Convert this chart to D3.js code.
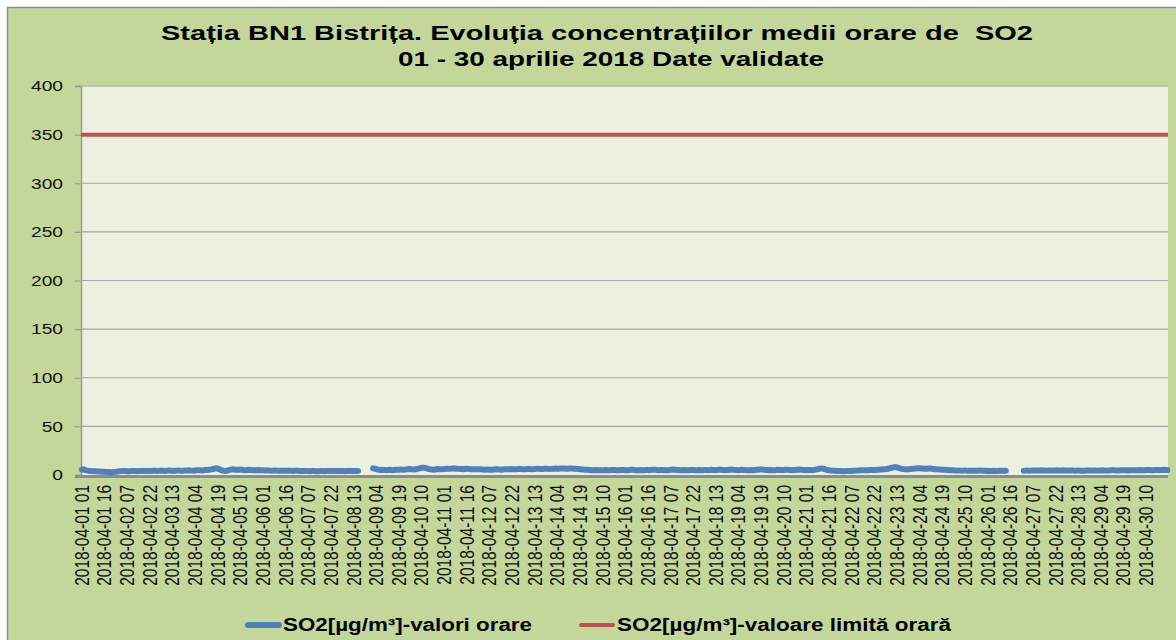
<!DOCTYPE html>
<html>
<head>
<meta charset="utf-8">
<style>
  body { margin: 0; background: #fff; }
  svg { display: block; font-family: "Liberation Sans", Arial, sans-serif; }
</style>
</head>
<body>
<svg width="1176" height="640"></svg>
<script src="https://d3js.org/d3.v7.min.js"></script>
<script>
var titleLines = ["Stația BN1 Bistrița. Evoluția concentrațiilor medii orare de  SO2",
                  "01 - 30 aprilie 2018 Date validate"];
var seriesNames = ["SO2[µg/m³]-valori orare", "SO2[µg/m³]-valoare limită orară"];
var limitValue = 350;
var yTicks = [0, 50, 100, 150, 200, 250, 300, 350, 400];

// hourly SO2 values, one row per day (hours 01..24), null = missing
var so2 = [
 5.5,5.8,5.2,4.8,4.5,4.2,4.0,4.0,3.8,3.8,3.6,3.5,3.5,3.4,3.4,3.3,3.2,3.0,3.0,2.9,2.9,3.0,3.2,3.4,
 3.6,3.8,4.0,4.0,4.1,4.0,3.9,3.8,3.9,4.0,4.1,4.0,3.9,4.0,4.2,4.1,4.0,4.0,4.1,4.2,4.2,4.0,4.1,4.3,
 4.3,4.4,4.2,4.3,4.5,4.4,4.3,4.2,4.3,4.5,4.6,4.4,4.3,4.2,4.4,4.5,4.6,4.5,4.3,4.4,4.5,4.6,4.7,4.8,
 4.6,4.5,4.4,4.6,4.8,4.9,5.0,4.8,4.7,4.9,5.1,5.2,5.3,5.5,5.8,6.2,6.6,6.9,6.7,6.0,5.2,4.6,4.3,4.2,
 4.4,4.8,5.2,5.6,5.8,5.7,5.5,5.3,5.4,5.6,5.5,5.2,5.0,4.9,5.1,5.3,5.2,5.0,4.9,4.8,5.0,5.1,5.0,4.9,
 4.8,4.7,4.6,4.7,4.6,4.5,4.4,4.5,4.6,4.5,4.4,4.3,4.4,4.5,4.4,4.3,4.4,4.5,4.4,4.3,4.2,4.3,4.4,4.3,
 4.2,4.1,4.2,4.0,4.1,4.2,4.0,3.9,4.0,4.1,4.0,3.9,3.8,3.9,4.0,4.1,4.0,3.9,4.0,4.1,4.2,4.1,4.0,4.1,
 4.2,4.1,4.0,4.1,4.2,4.0,3.9,4.0,4.1,4.0,4.1,4.2,4.1,4.0,4.1,4.2,null,null,null,null,null,null,null,null,
 null,6.8,6.5,6.0,5.6,5.4,5.2,5.3,5.2,5.1,5.0,5.2,5.3,5.1,5.0,5.2,5.4,5.3,5.5,5.7,5.6,5.4,5.5,5.8,
 6.0,6.2,6.0,5.8,5.7,5.9,6.2,6.5,6.9,7.3,7.6,7.4,7.0,6.5,6.1,5.8,5.6,5.5,5.7,5.9,6.1,6.0,5.9,6.0,
 6.1,6.3,6.5,6.4,6.3,6.6,6.8,6.7,6.5,6.4,6.3,6.2,6.1,6.0,6.2,6.4,6.3,6.1,6.0,5.9,5.8,5.9,6.0,5.9,
 5.8,5.7,5.6,5.5,5.6,5.7,5.5,5.4,5.5,5.6,5.7,5.8,5.7,5.6,5.5,5.7,5.9,6.0,5.9,5.8,6.0,6.1,6.0,5.9,
 6.0,6.1,6.2,6.1,6.0,5.9,6.0,6.2,6.3,6.2,6.0,5.9,6.1,6.3,6.4,6.3,6.2,6.1,6.3,6.5,6.4,6.3,6.2,6.3,
 6.4,6.5,6.6,6.5,6.4,6.6,6.8,6.7,6.6,6.5,6.4,6.6,6.7,6.6,6.5,6.4,6.3,6.2,6.0,5.8,5.6,5.5,5.4,5.3,
 5.2,5.1,5.0,4.9,5.0,5.1,5.0,4.9,4.8,4.9,5.0,5.1,5.0,4.9,5.0,5.1,5.2,5.1,5.0,4.9,5.0,5.1,5.2,5.1,
 5.0,4.9,5.0,5.2,5.4,5.3,5.1,5.0,4.9,5.0,5.1,5.0,4.9,5.0,5.2,5.1,5.0,5.2,5.4,5.5,5.3,5.1,5.0,5.1,
 5.2,5.1,5.0,4.9,5.0,5.1,5.3,5.5,5.6,5.4,5.2,5.1,5.0,4.9,5.0,5.1,5.0,4.9,5.0,5.1,5.2,5.1,5.0,4.9,
 5.0,5.1,5.0,4.9,5.0,5.2,5.1,5.0,5.1,5.3,5.2,5.1,5.0,5.2,5.4,5.3,5.2,5.1,5.0,5.1,5.2,5.4,5.6,5.5,
 5.3,5.2,5.1,5.0,5.1,5.3,5.2,5.1,5.0,4.9,5.0,5.1,5.0,4.9,5.1,5.3,5.5,5.7,5.8,5.6,5.4,5.2,5.1,5.0,
 5.1,5.0,4.9,5.0,5.1,5.3,5.2,5.1,5.0,5.2,5.4,5.5,5.3,5.2,5.1,5.0,5.1,5.2,5.4,5.6,5.5,5.3,5.2,5.1,
 5.0,5.1,5.2,5.1,5.0,5.2,5.5,5.8,6.2,6.6,6.8,6.5,6.0,5.5,5.1,4.8,4.6,4.5,4.4,4.3,4.2,4.1,4.0,4.0,
 3.9,3.9,4.0,4.1,4.0,4.1,4.2,4.3,4.4,4.5,4.6,4.7,4.8,4.9,5.0,5.0,4.9,5.0,5.1,5.2,5.1,5.0,5.2,5.4,
 5.5,5.6,5.7,5.8,5.9,6.1,6.4,6.8,7.2,7.6,7.9,8.1,7.8,7.3,6.8,6.4,6.1,6.0,5.9,5.8,5.9,6.1,6.3,6.5,
 6.6,6.8,7.0,6.9,6.7,6.6,6.5,6.4,6.5,6.7,6.6,6.4,6.2,6.0,5.9,5.8,5.7,5.6,5.5,5.4,5.3,5.2,5.1,5.0,
 4.9,4.8,4.7,4.6,4.5,4.6,4.5,4.4,4.5,4.6,4.5,4.4,4.3,4.4,4.5,4.4,4.3,4.4,4.5,4.6,4.5,4.4,4.3,4.2,
 4.3,4.2,4.1,4.2,4.3,4.2,4.1,4.2,4.3,4.4,4.3,4.2,4.3,null,null,null,null,null,null,null,null,null,null,null,
 4.4,4.5,4.6,4.5,4.4,4.5,4.6,4.7,4.6,4.5,4.6,4.7,4.8,4.7,4.6,4.5,4.6,4.7,4.6,4.5,4.6,4.7,4.8,4.7,
 4.6,4.7,4.8,4.7,4.6,4.5,4.6,4.7,4.6,4.5,4.4,4.5,4.6,4.5,4.4,4.3,4.4,4.5,4.6,4.7,4.6,4.5,4.6,4.7,
 4.6,4.5,4.6,4.7,4.8,4.7,4.6,4.5,4.6,4.7,4.8,4.9,4.8,4.7,4.6,4.7,4.8,4.9,5.0,4.9,4.8,4.7,4.8,4.9,
 5.0,4.9,4.8,4.9,5.0,5.1,5.0,4.9,5.0,5.1,5.2,5.1,5.0,4.9,5.0,5.1,5.2,5.1,5.0,5.1,5.2,5.3,5.2,5.1
];

// x axis labels shown every 15 hours
var xLabels = [
 "2018-04-01 01","2018-04-01 16","2018-04-02 07","2018-04-02 22","2018-04-03 13","2018-04-04 04",
 "2018-04-04 19","2018-04-05 10","2018-04-06 01","2018-04-06 16","2018-04-07 07","2018-04-07 22",
 "2018-04-08 13","2018-04-09 04","2018-04-09 19","2018-04-10 10","2018-04-11 01","2018-04-11 16",
 "2018-04-12 07","2018-04-12 22","2018-04-13 13","2018-04-14 04","2018-04-14 19","2018-04-15 10",
 "2018-04-16 01","2018-04-16 16","2018-04-17 07","2018-04-17 22","2018-04-18 13","2018-04-19 04",
 "2018-04-19 19","2018-04-20 10","2018-04-21 01","2018-04-21 16","2018-04-22 07","2018-04-22 22",
 "2018-04-23 13","2018-04-24 04","2018-04-24 19","2018-04-25 10","2018-04-26 01","2018-04-26 16",
 "2018-04-27 07","2018-04-27 22","2018-04-28 13","2018-04-29 04","2018-04-29 19","2018-04-30 10"
];

var svg = d3.select("svg");
var plot = {left: 81, right: 1168, top: 86, bottom: 475};
var stretch = 1.28;   // the original picture is widened horizontally

// index of a "YYYY-MM-DD HH" label in the hourly series
function labelIndex(s) {
  return (+s.slice(8, 10) - 1) * 24 + (+s.slice(11, 13) - 1);
}

var x = d3.scaleBand()
    .domain(d3.range(so2.length))
    .range([plot.left, plot.right])
    .padding(0);
var y = d3.scaleLinear().domain([0, 400]).range([plot.bottom, plot.top]);

// chart area
svg.append("rect")
    .attr("x", 7.5).attr("y", 7.5)
    .attr("width", 1176).attr("height", 640)
    .attr("fill", "#c4d79b")
    .attr("stroke", "#8e8e8e").attr("stroke-width", 1.5);

svg.append("rect")
    .attr("x", plot.left).attr("y", plot.top)
    .attr("width", plot.right - plot.left).attr("height", plot.bottom - plot.top)
    .attr("fill", "#ebf1de");

// title
var titlePos = [{x: 161, y: 40, len: 872}, {x: 398, y: 66, len: 426}];
svg.append("g").selectAll("text")
  .data(titleLines)
  .enter().append("text")
    .attr("x", function(d, i) { return titlePos[i].x; })
    .attr("y", function(d, i) { return titlePos[i].y; })
    .attr("textLength", function(d, i) { return titlePos[i].len; })
    .attr("lengthAdjust", "spacingAndGlyphs")
    .style("white-space", "pre")
    .attr("font-size", 20)
    .attr("font-weight", "bold")
    .attr("fill", "#000")
    .text(function(d) { return d; });

// y axis + grid
var yAxis = svg.append("g")
    .attr("transform", "translate(" + plot.left + ",0)")
    .call(d3.axisLeft(y).tickValues(yTicks).tickSize(6).tickFormat(""));
yAxis.select(".domain").attr("stroke", "#9a9a9a").attr("stroke-width", 1.5);
yAxis.selectAll(".tick line").attr("stroke", "#9a9a9a").attr("stroke-width", 1.2);

svg.append("g").selectAll("text")
  .data(yTicks)
  .enter().append("text")
    .attr("transform", function(d) { return "translate(63," + y(d) + ") scale(" + stretch + ",1)"; })
    .attr("dy", "0.35em")
    .attr("text-anchor", "end")
    .attr("font-size", 15)
    .attr("fill", "#111")
    .text(function(d) { return d; });

svg.append("g").selectAll("line")
  .data(yTicks.filter(function(d) { return d > 0; }))
  .enter().append("line")
    .attr("x1", plot.left).attr("x2", plot.right)
    .attr("y1", function(d) { return y(d); })
    .attr("y2", function(d) { return y(d); })
    .attr("stroke", "#a6a6a6").attr("stroke-width", 1.2);

// x axis line
svg.append("line")
    .attr("x1", plot.left - 6).attr("x2", plot.right)
    .attr("y1", y(0) + 1.5).attr("y2", y(0) + 1.5)
    .attr("stroke", "#8c8c8c").attr("stroke-width", 3);

// x labels
svg.append("g").selectAll("text")
  .data(xLabels)
  .enter().append("text")
    .attr("transform", function(d) {
      var cx = x(labelIndex(d)) + x.bandwidth() / 2 + 7;
      return "translate(" + cx + ",485) scale(" + stretch + ",1) rotate(-90)";
    })
    .attr("text-anchor", "end")
    .attr("font-size", 15.5)
    .attr("fill", "#111")
    .text(function(d) { return d; });

// limit line
svg.append("line")
    .attr("x1", plot.left).attr("x2", plot.right)
    .attr("y1", y(limitValue)).attr("y2", y(limitValue))
    .attr("stroke", "#c0504d").attr("stroke-width", 4);

// SO2 series
var line = d3.line()
    .defined(function(d) { return d != null; })
    .x(function(d, i) { return x(i) + x.bandwidth() / 2; })
    .y(function(d) { return y(d); });

svg.append("path")
    .datum(so2)
    .attr("fill", "none")
    .attr("stroke", "#4f81bd")
    .attr("stroke-width", 6)
    .attr("stroke-linejoin", "round")
    .attr("stroke-linecap", "round")
    .attr("d", line);

// legend
var legend = [
  {name: seriesNames[0], color: "#4f81bd", x1: 248, x2: 279, width: 6, tx: 283, len: 249},
  {name: seriesNames[1], color: "#c0504d", x1: 581, x2: 613, width: 4, tx: 617, len: 334}
];
var lg = svg.append("g").selectAll("g").data(legend).enter().append("g");
lg.append("line")
    .attr("x1", function(d) { return d.x1; })
    .attr("x2", function(d) { return d.x2; })
    .attr("y1", 625).attr("y2", 625)
    .attr("stroke", function(d) { return d.color; })
    .attr("stroke-width", function(d) { return d.width; })
    .attr("stroke-linecap", "round");
lg.append("text")
    .attr("x", function(d) { return d.tx; })
    .attr("y", 631)
    .attr("textLength", function(d) { return d.len; })
    .attr("lengthAdjust", "spacingAndGlyphs")
    .attr("font-size", 17.5)
    .attr("font-weight", "bold")
    .attr("fill", "#000")
    .text(function(d) { return d.name; });
</script>
</body>
</html>
